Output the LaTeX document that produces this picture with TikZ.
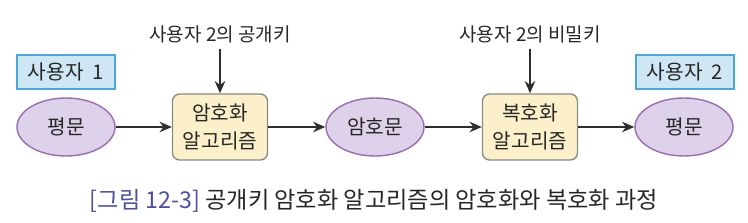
\documentclass[tikz,border=0pt]{standalone}
\usepackage{fontspec}
\setmainfont{Noto Sans CJK KR}
\usetikzlibrary{shapes.geometric,arrows.meta}
\definecolor{ovalfill}{HTML}{DDD2E9}
\definecolor{ovaldraw}{HTML}{9A6CB2}
\definecolor{algofill}{HTML}{FBF0C9}
\definecolor{algodraw}{HTML}{8A8A86}
\definecolor{userfill}{HTML}{CFE7F4}
\definecolor{userdraw}{HTML}{4BA7D6}
\definecolor{figblue}{HTML}{4B4F9E}
\definecolor{arrowgray}{HTML}{2E2E2E}
\begin{document}
\begin{tikzpicture}[
  x=0.02cm, y=-0.02cm,
  every node/.style={font=\fontsize{11.5}{16}\selectfont, align=center, text=black!85},
  oval/.style={ellipse, draw=ovaldraw, thick, fill=ovalfill, minimum width=1.96cm, minimum height=1.16cm, inner sep=0pt},
  algo/.style={rectangle, rounded corners=4pt, draw=algodraw, thick, fill=algofill, minimum width=1.9cm, minimum height=1.32cm, inner sep=1pt},
  user/.style={rectangle, draw=userdraw, thick, fill=userfill, minimum width=1.96cm, minimum height=0.68cm},
  key/.style={font=\fontsize{10.8}{13}\selectfont},
  flow/.style={-{Stealth[length=7pt,width=6pt]}, thick, arrowgray}
]
\useasboundingbox (0,0) rectangle (748,223);

% 사용자 상자
\node[user] (u1) at (66,72) {사용자~~1};
\node[user] (u2) at (685,72) {사용자~~2};

% 흐름
\node[oval] (p1) at (66,127) {평문};
\node[algo] (enc) at (220,127) {암호화\\알고리즘};
\node[oval] (ct) at (375,127) {암호문};
\node[algo] (dec) at (530,127) {복호화\\알고리즘};
\node[oval] (p2) at (684,127) {평문};

% 키
\node[key] (k1) at (220,34) {사용자 2의 공개키};
\node[key] (k2) at (530,34) {사용자 2의 비밀키};

% 화살표
\draw[flow] (p1) -- (enc);
\draw[flow] (enc) -- (ct);
\draw[flow] (ct) -- (dec);
\draw[flow] (dec) -- (p2);
\draw[flow] (k1) -- (enc);
\draw[flow] (k2) -- (dec);

% 그림 제목
\node[font=\fontsize{13.2}{16}\selectfont] (cap) at (374,201) {\textcolor{figblue}{[그림 12-3]} 공개키 암호화 알고리즘의 암호화와 복호화 과정};
\end{tikzpicture}
\end{document}
